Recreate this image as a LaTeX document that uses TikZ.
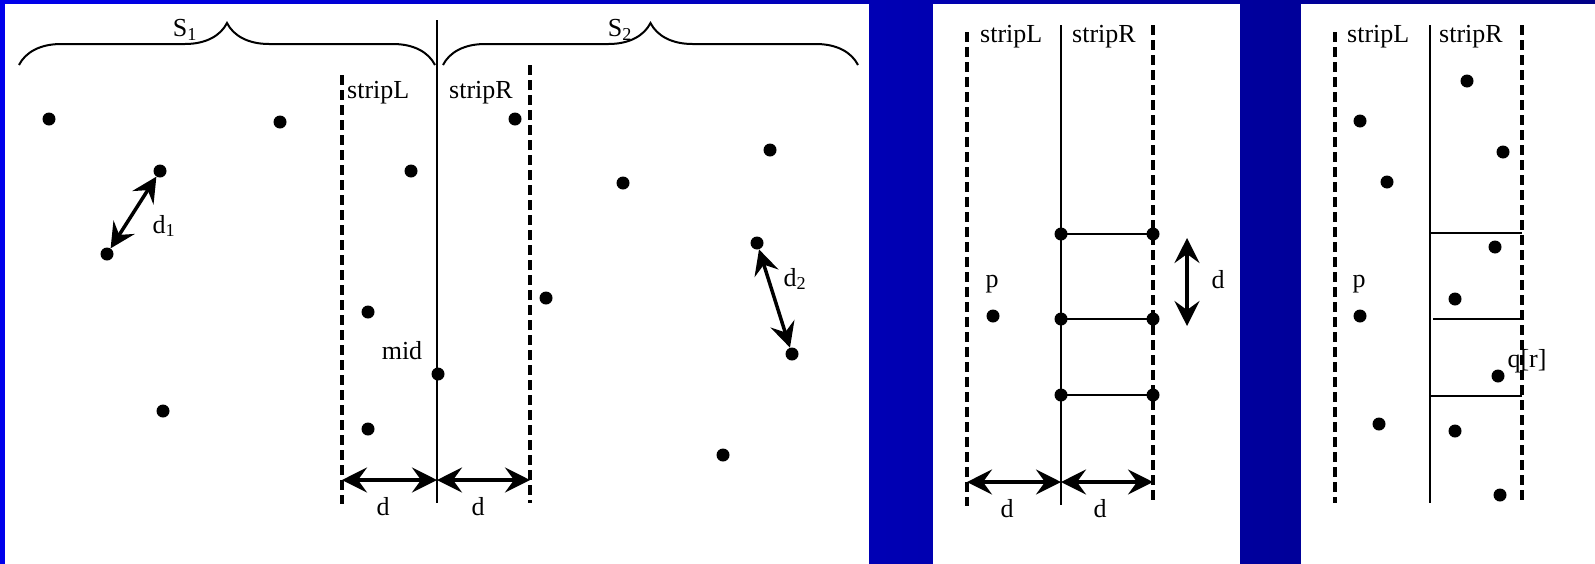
\documentclass[tikz,border=0pt]{standalone}
\usepackage{fontspec}
\setmainfont{Liberation Serif}
\usetikzlibrary{positioning, arrows.meta, decorations.pathreplacing}
\definecolor{bgleft}{RGB}{0,0,235}
\definecolor{bgright}{RGB}{0,0,135}

\begin{document}
\begin{tikzpicture}[
		x=1pt, y=-1pt,
		font=\fontsize{26}{30}\selectfont,
		panel/.style={fill=white, draw=none},
		pt/.style={circle, fill=black, inner sep=0pt, minimum size=13pt},
		midline/.style={line width=2pt},
		stripline/.style={line width=3.5pt, dash pattern=on 10pt off 5pt},
		cut/.style={line width=2pt},
		dist/.style={{Stealth[length=25pt,width=25pt,inset=9pt]}-{Stealth[length=25pt,width=25pt,inset=9pt]}, line width=3.5pt},
		sbrace/.style={decorate, decoration={brace, amplitude=42pt}, line width=2pt},
		lbl/.style={inner sep=0pt, anchor=base west}
		]
		
		% ==========================================
		% BACKGROUND AND PANELS
		% ==========================================
		\useasboundingbox (0,0) rectangle (1595,563);
		\shade[left color=bgleft, right color=bgright] (0,-2) rectangle (1595,566);
		\fill[panel] (5,4) rectangle (869,566);
		\fill[panel] (933,4) rectangle (1240,566);
		\fill[panel] (1301,4) rectangle (1597,566);
		
		% ==========================================
		% PANEL 1: Divide
		% ==========================================
		\coordinate (s1a) at (19,65);
		\coordinate (s1b) at (435,65);
		\coordinate (s2a) at (443,65);
		\coordinate (s2b) at (858,65);
		\draw[sbrace] (s1a) -- (s1b);
		\draw[sbrace] (s2a) -- (s2b);
		\node (lab_s1) at (185,30) {S\textsubscript{1}};
		\node (lab_s2) at (620,30) {S\textsubscript{2}};
		
		\coordinate (a_top) at (437,20);
		\coordinate (a_bot) at (437,503);
		\coordinate (aL_top) at (342,75);
		\coordinate (aL_bot) at (342,504);
		\coordinate (aR_top) at (530,65);
		\coordinate (aR_bot) at (530,503);
		\draw[midline] (a_top) -- (a_bot);
		\draw[stripline] (aL_top) -- (aL_bot);
		\draw[stripline] (aR_top) -- (aR_bot);
		\node[lbl] (a_stripL) at (347,98) {stripL};
		\node[lbl] (a_stripR) at (449,98) {stripR};
		
		% points
		\node[pt] (a1) at (49,119) {};
		\node[pt] (a2) at (280,122) {};
		\node[pt] (a3) at (160,171) {};
		\node[pt] (a4) at (107,254) {};
		\node[pt] (a5) at (411,171) {};
		\node[pt] (a6) at (515,119) {};
		\node[pt] (a7) at (623,183) {};
		\node[pt] (a8) at (770,150) {};
		\node[pt] (a9) at (757,243) {};
		\node[pt] (a10) at (792,354) {};
		\node[pt] (a11) at (546,298) {};
		\node[pt] (a12) at (368,312) {};
		\node[pt] (a13) at (438,374) {};
		\node[pt] (a14) at (368,429) {};
		\node[pt] (a15) at (163,411) {};
		\node[pt] (a16) at (723,455) {};
		
		\draw[dist] (a4) -- (a3);
		\draw[dist] (a9) -- (a10);
		\node (lab_d1) at (164,226) {d\textsubscript{1}};
		\node (lab_d2) at (795,279) {d\textsubscript{2}};
		\node (lab_mid) at (402,351) {mid};
		
		\coordinate (a_dl) at (342,480);
		\coordinate (a_dm) at (437,480);
		\coordinate (a_dr) at (530,480);
		\draw[dist] (a_dm) -- (a_dl);
		\draw[dist] (a_dm) -- (a_dr);
		\node (a_d1) at (383,507) {d};
		\node (a_d2) at (478,507) {d};
		
		% ==========================================
		% PANEL 2: Rectangle of height 2d
		% ==========================================
		\coordinate (b_top) at (1061,25);
		\coordinate (b_bot) at (1061,505);
		\coordinate (bL_top) at (967,32);
		\coordinate (bL_bot) at (967,506);
		\coordinate (bR_top) at (1153,25);
		\coordinate (bR_bot) at (1153,502);
		\draw[midline] (b_top) -- (b_bot);
		\draw[stripline] (bL_top) -- (bL_bot);
		\draw[stripline] (bR_top) -- (bR_bot);
		\node[lbl] (b_stripL) at (980,42) {stripL};
		\node[lbl] (b_stripR) at (1072,42) {stripR};
		
		\node[pt] (b1) at (1061,234) {};
		\node[pt] (b2) at (1153,234) {};
		\node[pt] (b3) at (1061,319) {};
		\node[pt] (b4) at (1153,319) {};
		\node[pt] (b5) at (1061,395) {};
		\node[pt] (b6) at (1153,395) {};
		\node[pt] (b7) at (993,316) {};
		\draw[cut] (b1.center) -- (b2.center);
		\draw[cut] (b3.center) -- (b4.center);
		\draw[cut] (b5.center) -- (b6.center);
		\node (lab_p1) at (992,284) {p};
		
		\coordinate (b_vt) at (1187,238);
		\coordinate (b_vb) at (1187,326);
		\draw[dist] (b_vt) -- (b_vb);
		\node (b_dv) at (1218,280) {d};
		
		\coordinate (b_dl) at (967,482);
		\coordinate (b_dm) at (1061,482);
		\coordinate (b_dr) at (1153,482);
		\draw[dist] (b_dm) -- (b_dl);
		\draw[dist] (b_dm) -- (b_dr);
		\node (b_d1) at (1007,509) {d};
		\node (b_d2) at (1100,509) {d};
		
		% ==========================================
		% PANEL 3: Boxes in the strip
		% ==========================================
		\coordinate (c_top) at (1430,25);
		\coordinate (c_bot) at (1430,503);
		\coordinate (cL_top) at (1335,32);
		\coordinate (cL_bot) at (1335,503);
		\coordinate (cR_top) at (1522,25);
		\coordinate (cR_bot) at (1522,503);
		\draw[midline] (c_top) -- (c_bot);
		\draw[stripline] (cL_top) -- (cL_bot);
		\draw[stripline] (cR_top) -- (cR_bot);
		\node[lbl] (c_stripL) at (1347,42) {stripL};
		\node[lbl] (c_stripR) at (1439,42) {stripR};
		
		\coordinate (c_h1a) at (1430,233);
		\coordinate (c_h1b) at (1522,233);
		\coordinate (c_h2a) at (1433,319);
		\coordinate (c_h2b) at (1522,319);
		\coordinate (c_h3a) at (1430,396);
		\coordinate (c_h3b) at (1522,396);
		\draw[cut] (c_h1a) -- (c_h1b);
		\draw[cut] (c_h2a) -- (c_h2b);
		\draw[cut] (c_h3a) -- (c_h3b);
		
		\node[pt] (c1) at (1467,81) {};
		\node[pt] (c2) at (1360,121) {};
		\node[pt] (c3) at (1503,152) {};
		\node[pt] (c4) at (1387,182) {};
		\node[pt] (c5) at (1495,247) {};
		\node[pt] (c6) at (1455,299) {};
		\node[pt] (c7) at (1360,316) {};
		\node[pt] (c8) at (1498,376) {};
		\node[pt] (c9) at (1379,424) {};
		\node[pt] (c10) at (1455,431) {};
		\node[pt] (c11) at (1500,495) {};
		\node (lab_p2) at (1359,284) {p};
		\node (lab_qr) at (1527,361) {q[r]};
		
	\end{tikzpicture}
\end{document}
